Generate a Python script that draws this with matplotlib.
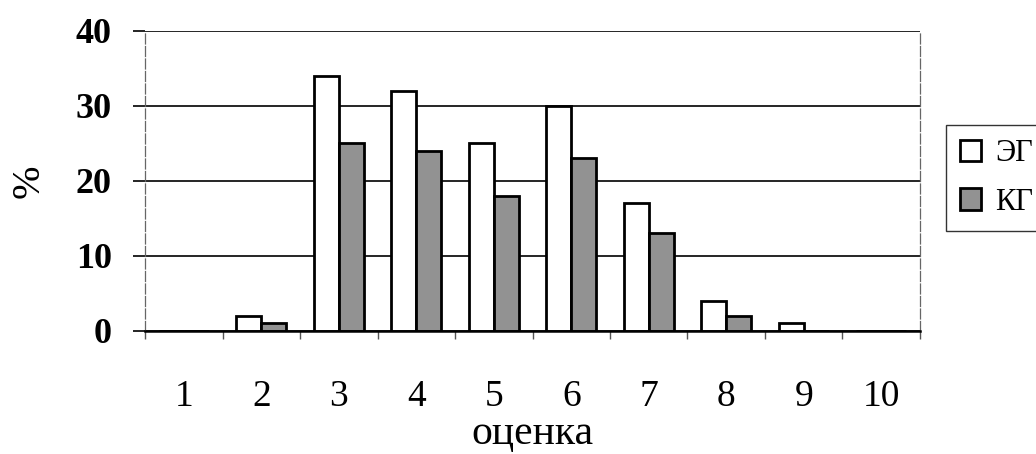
import numpy as np
import matplotlib
matplotlib.use("Agg")
import matplotlib.pyplot as plt
from matplotlib.ticker import FixedLocator

# оценки и проценты по группам
grades = [1, 2, 3, 4, 5, 6, 7, 8, 9, 10]
eg = [0, 2, 34, 32, 25, 30, 17, 4, 1, 0]
kg = [0, 1, 25, 24, 18, 23, 13, 2, 0, 0]

plt.rcParams['font.family'] = ['Liberation Serif', 'DejaVu Serif']

fig = plt.figure(figsize=(10.36, 4.54), dpi=100)
ax = fig.add_axes([0.140, 0.271, 0.748, 0.661])

x = np.arange(len(grades))
w = 0.32
ax.bar(x - w / 2, eg, w, color='white', edgecolor='black', linewidth=2, label='ЭГ', zorder=3)
ax.bar(x + w / 2, kg, w, color='#929292', edgecolor='black', linewidth=2, label='КГ', zorder=3)

ax.set_xlim(-0.5, len(grades) - 0.5)
ax.set_ylim(0, 40)
ax.set_yticks([0, 10, 20, 30, 40])
ax.yaxis.grid(True, color='black', linewidth=1.2, zorder=1)
ax.tick_params(axis='y', length=9, width=1.2, pad=15, labelsize=26)
for t in ax.get_yticklabels():
    t.set_fontweight('bold')

# подписи в центрах категорий, засечки на границах
ax.set_xticks(x)
ax.set_xticklabels([str(g) for g in grades], fontsize=27)
ax.tick_params(axis='x', which='major', length=0, pad=35)
ax.xaxis.set_minor_locator(FixedLocator(np.arange(-0.5, len(grades), 1.0)))
ax.tick_params(axis='x', which='minor', length=6, width=1, color='#555555')

for s in ['left', 'right', 'top']:
    ax.spines[s].set_linewidth(0.9)
    ax.spines[s].set_color('#666666')
ax.spines['left'].set_linestyle((0, (8, 2)))
ax.spines['right'].set_linestyle((0, (8, 2)))
ax.spines['top'].set_visible(False)
ax.spines['bottom'].set_linewidth(1.8)
ax.spines['bottom'].set_zorder(4)

ax.set_ylabel('%', fontsize=29, labelpad=20)
ax.set_xlabel('оценка', fontsize=30, labelpad=0)

leg = ax.legend(loc='center left', bbox_to_anchor=(1.034, 0.51), fontsize=22,
                frameon=True, fancybox=False, edgecolor='black',
                handlelength=0.7, handleheight=0.7, handletextpad=0.45,
                borderpad=0.45, labelspacing=0.65, borderaxespad=0)
leg.get_frame().set_linewidth(1.0)

fig.savefig('out.png', dpi=100)
